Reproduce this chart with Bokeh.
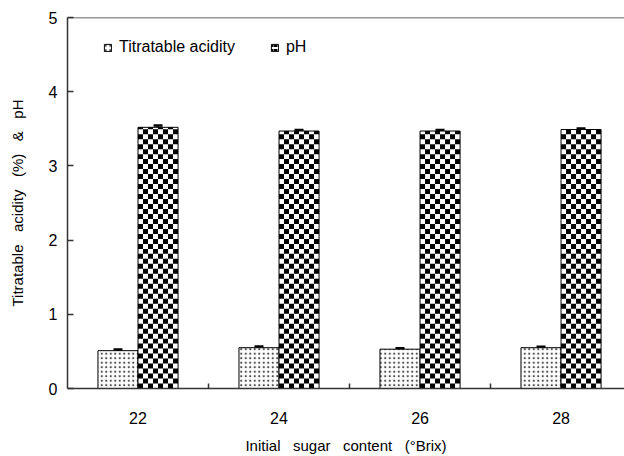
import math
from bokeh.plotting import figure
from bokeh.models import (ColumnDataSource, Range1d, FixedTicker, Whisker, TeeHead,
                          Legend, LegendItem, Span)
from bokeh.embed import file_html
from bokeh.resources import INLINE

# ---- data ----
sugar = ["22", "24", "26", "28"]
acidity = [0.51, 0.55, 0.53, 0.55]
acidity_err = [0.015, 0.015, 0.012, 0.012]
ph = [3.52, 3.47, 3.47, 3.49]
ph_err = [0.025, 0.015, 0.015, 0.015]
y_ticks = [0, 1, 2, 3, 4, 5]

FONT = "Liberation Sans"
NB = "\u00a0"

W, H = 624, 456
BL, BR, BT, BB = 67, 0, 17, 67
X_END, Y_END = 3.95, 5

idx = list(range(len(sugar)))
bw = 0.284
x_ta = [i + 0.5 - bw / 2 for i in idx]
x_ph = [i + 0.5 + bw / 2 for i in idx]

src = ColumnDataSource(dict(
    x_ta=x_ta, x_ph=x_ph, ta=acidity, ph=ph,
    ta_lo=[a - e for a, e in zip(acidity, acidity_err)],
    ta_hi=[a + e for a, e in zip(acidity, acidity_err)],
    ph_lo=[a - e for a, e in zip(ph, ph_err)],
    ph_hi=[a + e for a, e in zip(ph, ph_err)],
))

# checkerboard cells (5 px squares) filling each pH bar, derived from the data
cw = 5 * X_END / (W - BL - BR)
ch = 5 * Y_END / (H - BT - BB)
ncols = int(round(bw / cw))
cells = dict(left=[], right=[], bottom=[], top=[])
for xc, v in zip(x_ph, ph):
    left0 = xc - bw / 2
    for r in range(int(math.ceil(v / ch))):
        for c in range(ncols):
            if (r + c) % 2 == 0:
                cells["left"].append(left0 + c * cw)
                cells["right"].append(min(left0 + (c + 1) * cw, xc + bw / 2))
                cells["bottom"].append(r * ch)
                cells["top"].append(min((r + 1) * ch, v))

p = figure(width=W, height=H, output_backend="svg", toolbar_location=None,
           x_range=Range1d(0, X_END), y_range=Range1d(0, Y_END),
           min_border_left=BL, min_border_right=BR, min_border_top=BT, min_border_bottom=BB)
p.outline_line_color = None
p.grid.visible = False
p.background_fill_color = "white"
p.border_fill_color = "white"

r_ta = p.vbar(x="x_ta", top="ta", bottom=0, width=bw, source=src, fill_color="white",
              line_color="black", line_width=1, hatch_pattern="dot", hatch_scale=4.5,
              hatch_weight=1, hatch_color="#505050")
p.vbar(x="x_ph", top="ph", bottom=0, width=bw, source=src, fill_color="white",
       line_color=None)
p.quad(left="left", right="right", bottom="bottom", top="top",
       source=ColumnDataSource(cells), fill_color="black", line_color=None)
p.vbar(x="x_ph", top="ph", bottom=0, width=bw, source=src, fill_color=None,
       line_color="black", line_width=1)
# legend-only swatch for pH (hidden renderer, shown only in the legend)
r_ph_leg = p.vbar(x="x_ph", top="ph", bottom=0, width=bw, source=src, fill_color="white",
                  line_color="black", line_width=1, hatch_pattern="horizontal_dash",
                  hatch_scale=4, hatch_weight=2, hatch_color="black")
r_ph_leg.visible = False

for lo, hi, xx in (("ta_lo", "ta_hi", "x_ta"), ("ph_lo", "ph_hi", "x_ph")):
    w = Whisker(base=xx, lower=lo, upper=hi, source=src, line_color="black", line_width=1.5,
                upper_head=TeeHead(size=9, line_width=2.5, line_color="black"),
                lower_head=TeeHead(size=9, line_width=2.5, line_color="black"))
    p.add_layout(w)

p.add_layout(Span(location=Y_END, dimension="width", line_color="#333333", line_width=1.5))

# x axis
xa = p.xaxis[0]
xa.ticker = FixedTicker(ticks=[i + 0.5 for i in idx], minor_ticks=[1, 2, 3])
xa.major_label_overrides = {i + 0.5: s for i, s in zip(idx, sugar)}
xa.major_tick_in = 0
xa.major_tick_out = 0
xa.minor_tick_in = 5
xa.minor_tick_out = 0
xa.minor_tick_line_color = "#333333"
xa.minor_tick_line_width = 1.5
xa.axis_line_color = "#333333"
xa.axis_line_width = 1.5
xa.major_label_standoff = 23
xa.major_label_text_font = FONT
xa.major_label_text_font_size = "16px"
xa.major_label_text_color = "black"
xa.axis_label = f"Initial {NB}{NB}sugar {NB}{NB}content {NB}{NB}(°Brix)"
xa.axis_label_text_font = FONT
xa.axis_label_text_font_size = "15px"
xa.axis_label_text_font_style = "normal"
xa.axis_label_text_color = "black"
xa.axis_label_standoff = 10

# y axis
ya = p.yaxis[0]
ya.ticker = FixedTicker(ticks=y_ticks)
ya.major_tick_in = 6
ya.major_tick_out = 0
ya.minor_tick_line_color = None
ya.major_tick_line_color = "#333333"
ya.major_tick_line_width = 1.5
ya.axis_line_color = "#333333"
ya.axis_line_width = 1.5
ya.major_label_standoff = 10
ya.major_label_text_font = FONT
ya.major_label_text_font_size = "16px"
ya.major_label_text_color = "black"
ya.axis_label = f"Titratable {NB}{NB}acidity {NB}{NB}(%) {NB}{NB}& {NB}{NB}pH"
ya.axis_label_text_font = FONT
ya.axis_label_text_font_size = "15px"
ya.axis_label_text_font_style = "normal"
ya.axis_label_text_color = "black"
ya.axis_label_standoff = 20

legend = Legend(items=[LegendItem(label="Titratable acidity", renderers=[r_ta]),
                       LegendItem(label="pH", renderers=[r_ph_leg])],
                location=(36, 332), orientation="horizontal",
                glyph_width=9, glyph_height=9, label_height=9, label_standoff=7,
                spacing=35, padding=0, margin=0,
                label_text_font=FONT, label_text_font_size="16px",
                label_text_color="black",
                border_line_color=None, background_fill_alpha=0)
p.add_layout(legend)

open("out.html", "w").write(file_html(p, INLINE))
